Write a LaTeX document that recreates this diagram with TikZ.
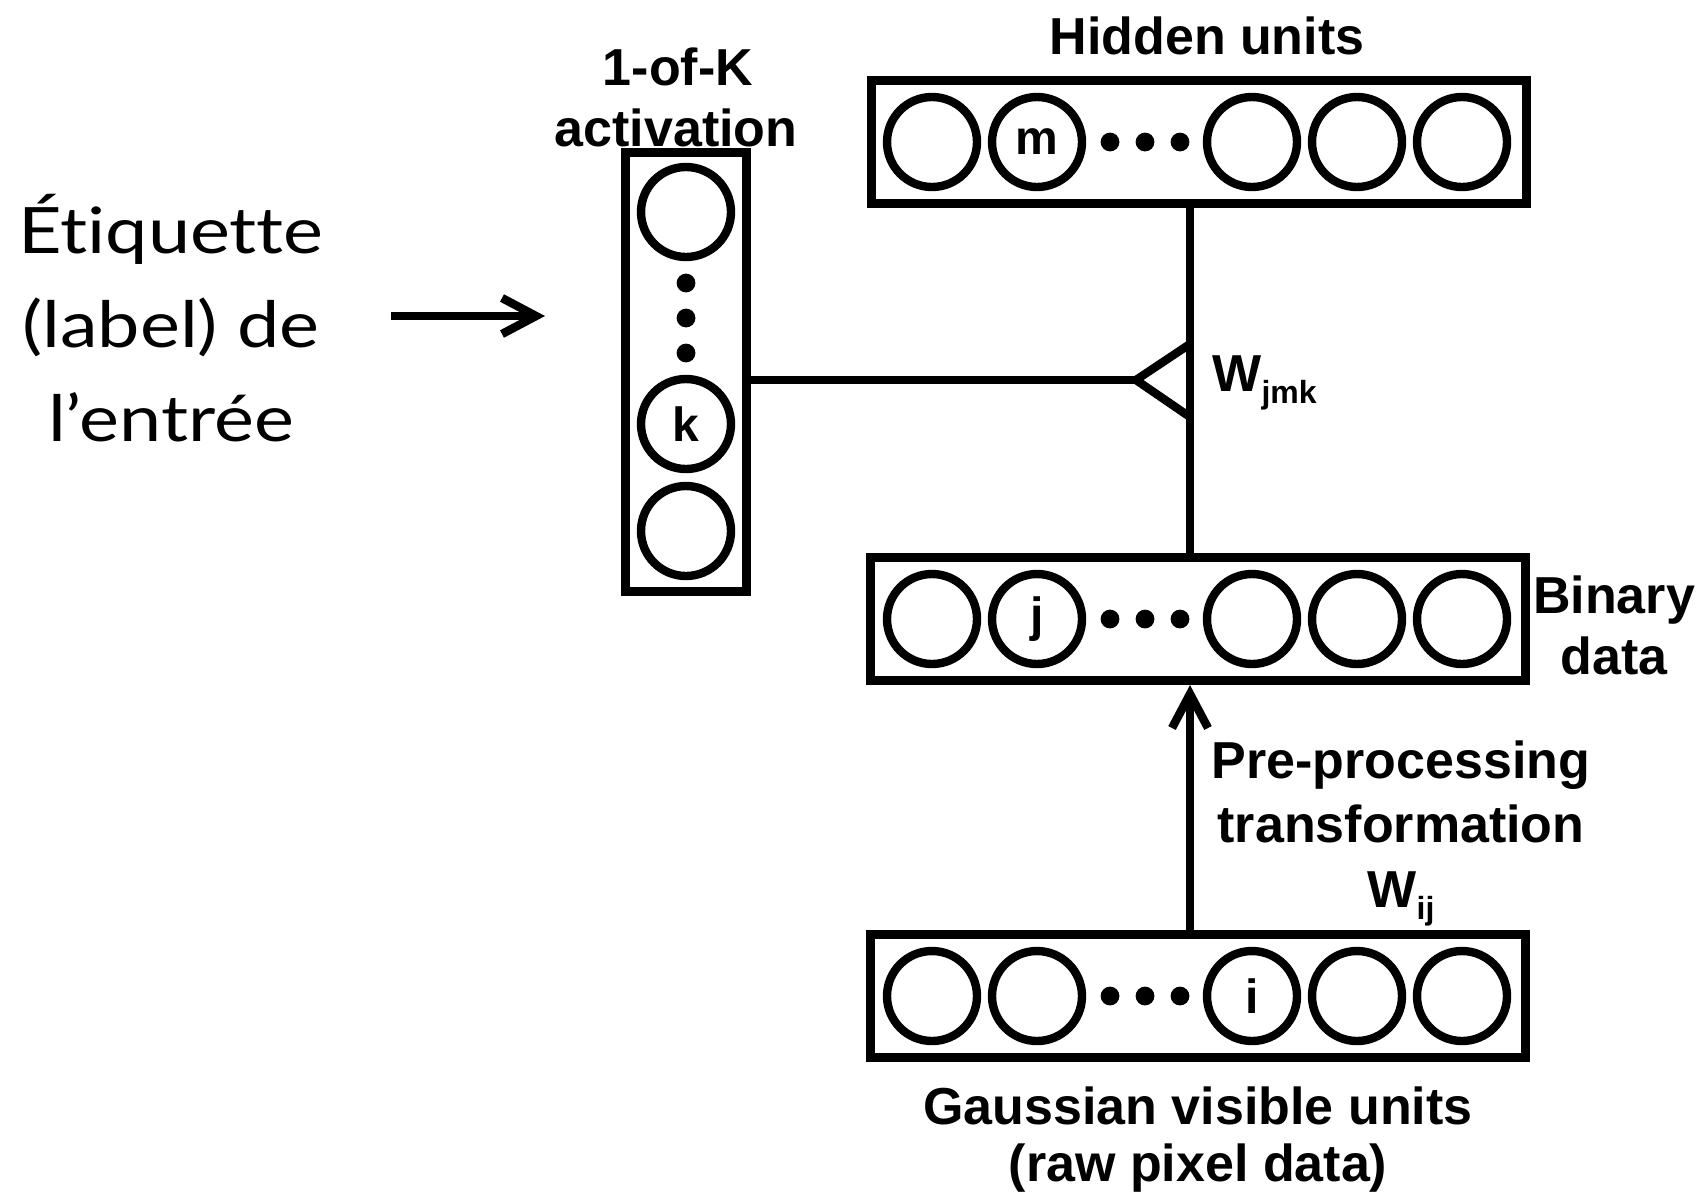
\documentclass[tikz,border=0pt]{standalone}
\usepackage{fontspec}
\setmainfont{Liberation Sans}
\newfontfamily\gillfont[Ligatures=CommonOff, FakeStretch=1.18]{Lato}
\usepackage{tikz}
\usetikzlibrary{arrows.meta}

\newcommand{\wsub}[1]{\raisebox{-6pt}{\fontsize{16}{16}\selectfont #1}}

\begin{document}
\begin{tikzpicture}[x=0.5pt, y=-0.5pt,
    lab/.style={font=\fontsize{26}{31}\selectfont\bfseries, inner sep=0pt, anchor=base},
    layer/.style={draw, line width=4.5pt, inner sep=0pt, minimum width=327.5pt, minimum height=61.5pt},
    unit/.style={draw, circle, line width=4.2pt, inner sep=0pt, minimum size=45pt, font=\fontsize{24}{28}\selectfont\bfseries},
    wire/.style={line width=4.2pt},
    barb/.style={line width=4.2pt, -{Straight Barb[length=17pt, width=18pt]}}]
    \useasboundingbox (0,0) rectangle (1700,1195);

    % the four layers
    \node[layer] (hid) at (1199,142) {};
    \node[layer] (bin) at (1198,619) {};
    \node[layer] (vis) at (1198,996) {};
    \node[layer, minimum width=60.5pt, minimum height=219.5pt] (cls) at (686,372) {};

    % units in each row
    \foreach \x/\t [count=\n] in {932/{}, 1037/m, 1252/{}, 1357/{}, 1462/{}}
        \node[unit] (h\n) at (\x,142) {\t};
    \foreach \x/\t [count=\n] in {932/{}, 1037/j, 1252/{}, 1357/{}, 1462/{}}
        \node[unit] (b\n) at (\x,619) {\t};
    \foreach \x/\t [count=\n] in {932/{}, 1037/{}, 1252/i, 1357/{}, 1462/{}}
        \node[unit] (v\n) at (\x,996) {\t};
    \foreach \y/\t [count=\n] in {212/{}, 424/k, 531/{}}
        \node[unit] (c\n) at (686,\y) {\t};
    \foreach \x in {1110,1145,1180} {
        \fill (\x,142) circle (4.7pt);
        \fill (\x,619) circle (4.7pt);
        \fill (\x,996) circle (4.7pt);
    }
    \foreach \y in {283,318,353} \fill (686,\y) circle (4.7pt);

    % connections
    \coordinate (jn) at (1190,380);
    \coordinate (tip) at (1136,380);
    \draw[wire] (hid.south -| jn) -- (bin.north -| jn);
    \draw[wire] (cls.east |- tip) -- (tip);
    \draw[wire] ([shift={(54,-36)}]tip) -- (tip) -- ([shift={(54,37)}]tip);
    \draw[barb] (vis.north -| jn) -- (bin.south -| jn);

    % labels
    \node[lab] (hidt) at (1207,54) {Hidden units};
    \node[lab] (clst1) at (678,85) {1-of-K};
    \node[lab] (clst2) at (676,146) {activation};
    \node[lab] (bint1) at (1614,613) {Binary};
    \node[lab] (bint2) at (1614,674) {data};
    \node[lab] (pre1) at (1401,778) {Pre-processing};
    \node[lab] (pre2) at (1401,842) {transformation};
    \node[lab] (wij) at (1401,907) {W\wsub{ij}};
    \node[lab] (vist1) at (1198,1124) {Gaussian visible units};
    \node[lab] (vist2) at (1198,1181) {(raw pixel data)};
    \node[lab, anchor=base west] (wjmk) at (1212,391) {W\wsub{jmk}};

    % input label
    \node[font=\gillfont\fontsize{32}{47}\selectfont, align=center, inner sep=0pt] (inp) at (171,318) {Étiquette\\(label) de\\l’entrée};
    \coordinate (a0) at (391,316);
    \coordinate (a1) at (545,316);
    \draw[barb] (a0) -- (a1);
\end{tikzpicture}
\end{document}
